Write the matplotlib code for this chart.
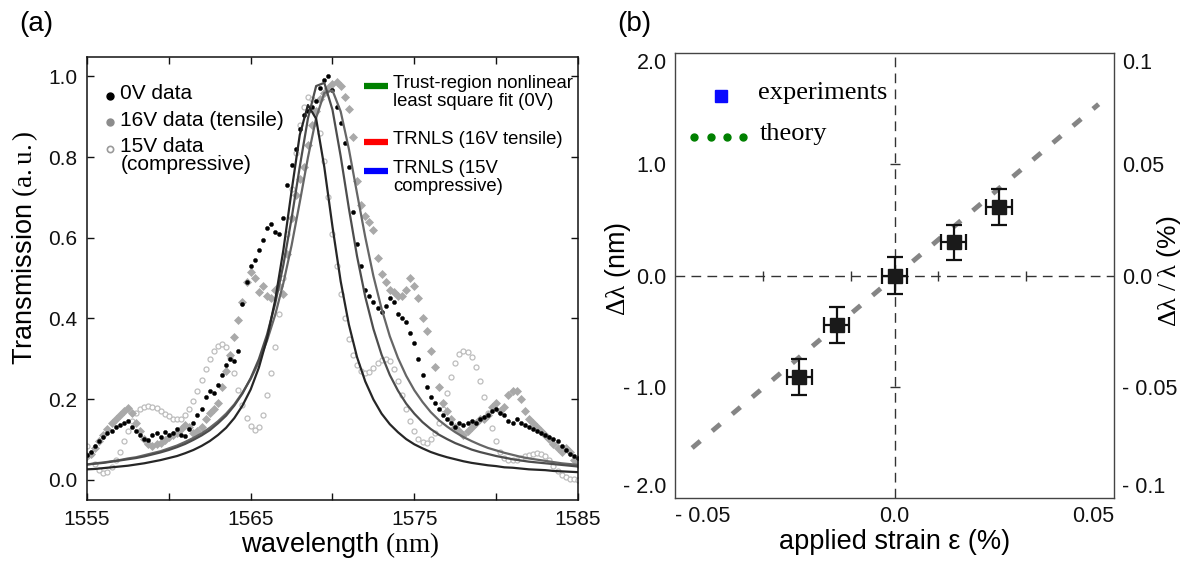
import numpy as np
import matplotlib
matplotlib.use("Agg")
import matplotlib.pyplot as plt

plt.rcParams['font.family'] = ['Liberation Sans', 'DejaVu Sans']
plt.rcParams['mathtext.fontset'] = 'custom'
plt.rcParams['mathtext.rm'] = 'Liberation Serif'
plt.rcParams['mathtext.it'] = 'Liberation Serif:italic'
plt.rcParams['mathtext.bf'] = 'Liberation Serif:bold'

# ---------------- panel (a): transmission spectra ----------------
WL = np.linspace(1555, 1585, 121)          # 0.25 nm sampling
T_0V = [0.062, 0.070, 0.085, 0.095, 0.105, 0.115, 0.120, 0.130, 0.135, 0.140,
        0.145, 0.130, 0.120, 0.110, 0.100, 0.098, 0.110, 0.115, 0.105, 0.118,
        0.112, 0.115, 0.125, 0.110, 0.108, 0.125, 0.140, 0.160, 0.175, 0.205,
        0.220, 0.215, 0.235, 0.260, 0.285, 0.300, 0.295, 0.320, 0.435, 0.490,
        0.530, 0.545, 0.570, 0.595, 0.625, 0.635, 0.615, 0.610, 0.650, 0.730,
        0.780, 0.820, 0.870, 0.905, 0.915, 0.925, 0.940, 0.970, 0.990, 1.000,
        0.965, 0.925, 0.885, 0.835, 0.775, 0.665, 0.585, 0.530, 0.470, 0.455,
        0.440, 0.425, 0.415, 0.430, 0.450, 0.440, 0.410, 0.400, 0.390, 0.365,
        0.340, 0.300, 0.260, 0.230, 0.205, 0.190, 0.175, 0.160, 0.150, 0.140,
        0.130, 0.140, 0.135, 0.140, 0.145, 0.140, 0.150, 0.155, 0.160, 0.170,
        0.175, 0.165, 0.160, 0.145, 0.140, 0.150, 0.140, 0.135, 0.130, 0.125,
        0.120, 0.115, 0.110, 0.105, 0.100, 0.095, 0.085, 0.075, 0.065, 0.060,
        0.055]
T_16V = [0.060, 0.065, 0.080, 0.095, 0.110, 0.125, 0.140, 0.150, 0.160, 0.170,
         0.178, 0.165, 0.140, 0.120, 0.100, 0.090, 0.085, 0.088, 0.092, 0.098,
         0.105, 0.110, 0.115, 0.125, 0.135, 0.130, 0.115, 0.120, 0.130, 0.150,
         0.165, 0.175, 0.190, 0.230, 0.270, 0.310, 0.355, 0.395, 0.440, 0.490,
         0.515, 0.500, 0.465, 0.480, 0.455, 0.450, 0.470, 0.480, 0.460, 0.560,
         0.650, 0.705, 0.745, 0.775, 0.830, 0.880, 0.915, 0.945, 0.960, 0.970,
         0.980, 0.985, 0.975, 0.950, 0.920, 0.850, 0.740, 0.680, 0.655, 0.640,
         0.620, 0.550, 0.510, 0.490, 0.470, 0.465, 0.455, 0.455, 0.470, 0.500,
         0.480, 0.450, 0.400, 0.370, 0.320, 0.280, 0.230, 0.190, 0.170, 0.150,
         0.130, 0.120, 0.110, 0.120, 0.130, 0.140, 0.150, 0.150, 0.160, 0.180,
         0.190, 0.170, 0.180, 0.210, 0.220, 0.220, 0.200, 0.170, 0.150, 0.140,
         0.130, 0.120, 0.110, 0.100, 0.090, 0.080, 0.070, 0.080, 0.070, 0.050,
         0.040]
T_15V = [0.085, 0.065, 0.040, 0.025, 0.018, 0.020, 0.032, 0.050, 0.070, 0.095,
         0.120, 0.145, 0.165, 0.175, 0.180, 0.182, 0.181, 0.177, 0.171, 0.164,
         0.157, 0.152, 0.150, 0.152, 0.160, 0.175, 0.195, 0.220, 0.247, 0.275,
         0.300, 0.320, 0.332, 0.337, 0.328, 0.302, 0.265, 0.222, 0.185, 0.153,
         0.133, 0.124, 0.130, 0.160, 0.210, 0.265, 0.330, 0.410, 0.500, 0.610,
         0.720, 0.810, 0.880, 0.925, 0.950, 0.945, 0.915, 0.860, 0.790, 0.700,
         0.610, 0.530, 0.460, 0.400, 0.350, 0.310, 0.285, 0.270, 0.265, 0.268,
         0.278, 0.290, 0.298, 0.300, 0.295, 0.275, 0.245, 0.210, 0.175, 0.145,
         0.120, 0.102, 0.093, 0.092, 0.100, 0.115, 0.140, 0.175, 0.215, 0.255,
         0.290, 0.312, 0.320, 0.318, 0.305, 0.280, 0.245, 0.205, 0.165, 0.128,
         0.095, 0.070, 0.055, 0.049, 0.048, 0.050, 0.053, 0.058, 0.062, 0.065,
         0.066, 0.064, 0.058, 0.048, 0.035, 0.022, 0.012, 0.006, 0.003, 0.001,
         0.000]

FIT_WL = np.linspace(1555, 1585, 61)       # 0.5 nm sampling
FIT_0V = [0.038, 0.040, 0.042, 0.045, 0.048, 0.051, 0.054, 0.058, 0.063, 0.068,
          0.074, 0.081, 0.089, 0.099, 0.110, 0.123, 0.140, 0.159, 0.184, 0.214,
          0.252, 0.299, 0.360, 0.437, 0.533, 0.648, 0.776, 0.896, 0.976, 0.984,
          0.917, 0.802, 0.673, 0.554, 0.454, 0.374, 0.310, 0.260, 0.221, 0.189,
          0.164, 0.143, 0.126, 0.112, 0.101, 0.091, 0.083, 0.075, 0.069, 0.064,
          0.059, 0.055, 0.051, 0.048, 0.045, 0.043, 0.041, 0.039, 0.037, 0.035,
          0.033]
FIT_16V = [0.038, 0.041, 0.043, 0.046, 0.049, 0.053, 0.056, 0.061, 0.066, 0.071,
           0.078, 0.085, 0.094, 0.104, 0.115, 0.129, 0.145, 0.164, 0.187, 0.216,
           0.250, 0.292, 0.345, 0.409, 0.488, 0.581, 0.688, 0.799, 0.897, 0.959,
           0.965, 0.913, 0.820, 0.710, 0.602, 0.505, 0.424, 0.356, 0.302, 0.258,
           0.222, 0.193, 0.168, 0.148, 0.132, 0.118, 0.106, 0.096, 0.087, 0.079,
           0.073, 0.067, 0.062, 0.057, 0.053, 0.050, 0.047, 0.044, 0.041, 0.039,
           0.037]
FIT_15V = [0.026, 0.027, 0.029, 0.031, 0.033, 0.035, 0.038, 0.041, 0.045, 0.049,
           0.054, 0.059, 0.066, 0.074, 0.084, 0.096, 0.111, 0.129, 0.153, 0.184,
           0.224, 0.278, 0.350, 0.446, 0.570, 0.716, 0.855, 0.929, 0.895, 0.775,
           0.627, 0.492, 0.385, 0.304, 0.244, 0.199, 0.164, 0.138, 0.118, 0.101,
           0.088, 0.078, 0.069, 0.062, 0.056, 0.051, 0.046, 0.042, 0.039, 0.036,
           0.034, 0.031, 0.030, 0.028, 0.026, 0.025, 0.024, 0.022, 0.021, 0.020,
           0.019]

A_XTICKS = [1555, 1560, 1565, 1570, 1575, 1580, 1585]
A_XTICKLABELS = ['1555', '', '1565', '', '1575', '', '1585']
A_YTICKS = [0.0, 0.2, 0.4, 0.6, 0.8, 1.0]
A_YTICKLABELS = ['0.0', '0.2', '0.4', '0.6', '0.8', '1.0']
DATA_LABELS = ['0V data', '16V data (tensile)', '15V data\n(compressive)']
FIT_LABELS = ['Trust-region nonlinear\nleast square fit (0V)',
              'TRNLS (16V tensile)', 'TRNLS (15V\ncompressive)']

# ---------------- panel (b): shift vs strain ----------------
STRAIN = [-0.0217, -0.0132, 0.0, 0.0135, 0.0238]
SHIFT = [-0.91, -0.447, 0.0, 0.297, 0.617]
SHIFT_ERR = [0.163, 0.163, 0.166, 0.160, 0.163]
STRAIN_ERR = [0.0029, 0.0029, 0.0028, 0.0028, 0.0029]
THEORY_STRAIN = [-0.0461, 0.0465]
THEORY_SHIFT = [-1.55, 1.54]
B_XTICKS = [-0.05, 0.0, 0.05]
B_XTICKLABELS = ['- 0.05', '0.0', '0.05']
B_YTICKS = [-2.0, -1.0, 0.0, 1.0, 2.0]
B_YTICKLABELS = ['- 2.0', '- 1.0', '0.0', '1.0', '2.0']
B_Y2TICKS = [-0.1, -0.05, 0.0, 0.05, 0.1]
B_Y2TICKLABELS = ['- 0.1', '- 0.05', '0.0', '0.05', '0.1']
ZERO_XMARKS = [-0.03, -0.01, 0.01, 0.03]
ZERO_YMARKS = [-1.0, 1.0]

W, H = 1187, 561
fig = plt.figure(figsize=(W / 100, H / 100), dpi=100)
axA = fig.add_axes([87 / W, 1 - 500 / H, (578 - 87) / W, (500 - 57) / H])
axB = fig.add_axes([675 / W, 1 - 498 / H, (1114 - 675) / W, (498 - 53) / H])

# ---- panel (a)
axA.plot(WL, T_15V, ls='none', marker='o', ms=3.6, mfc='white', mec='#bdbdbd', mew=0.9)
axA.plot(WL, T_16V, ls='none', marker='D', ms=4.2, mfc='#a9a9a9', mec='#a9a9a9', mew=0.5)
axA.plot(WL, T_0V, ls='none', marker='o', ms=3.0, mfc='black', mec='black', mew=0.3)
axA.plot(FIT_WL, FIT_16V, color='#666666', lw=1.6)
axA.plot(FIT_WL, FIT_0V, color='#4d4d4d', lw=1.6)
axA.plot(FIT_WL, FIT_15V, color='#262626', lw=1.6)

axA.set_xlim(1555, 1585)
axA.set_ylim(-0.05, 1.048)
axA.set_xticks(A_XTICKS)
axA.set_xticklabels(A_XTICKLABELS)
axA.set_yticks(A_YTICKS)
axA.set_yticklabels(A_YTICKLABELS)
axA.tick_params(direction='in', top=True, right=True, length=5, width=1,
                labelsize=15, pad=7, colors='#111111')
for s in axA.spines.values():
    s.set_linewidth(1.1)
    s.set_color('#111111')
axA.set_xlabel('wavelength $\\mathrm{(nm)}$', fontsize=19.5, labelpad=1)
axA.set_ylabel('Transmission $\\mathrm{(a.u.)}$', fontsize=19.5, labelpad=6)
axA.xaxis.label.set_x(0.515)
axA.yaxis.label.set_y(0.57)

# data legend (manual, handles aligned to first text line)
tA = axA.transAxes
data_styles = [dict(marker='o', ms=5, mfc='black', mec='black'),
               dict(marker='o', ms=5, mfc='#8c8c8c', mec='#8c8c8c'),
               dict(marker='o', ms=4.5, mfc='white', mec='#9a9a9a', mew=1.2)]
rows = [0.913, 0.853, 0.793]
for st, y, lab in zip(data_styles, rows, DATA_LABELS):
    axA.plot([0.047], [y], transform=tA, ls='none', clip_on=False, **st)
    axA.text(0.068, y + 0.026, lab, transform=tA, fontsize=15, va='top',
             ha='left', linespacing=0.92)

fit_colors = ['#008000', '#ff0000', '#0000ff']
frows = [0.934, 0.809, 0.742]
for c, y, lab in zip(fit_colors, frows, FIT_LABELS):
    axA.plot([0.565, 0.614], [y, y], transform=tA, color=c, lw=4.5,
             solid_capstyle='butt', clip_on=False)
    axA.text(0.624, y + 0.025, lab, transform=tA, fontsize=13.3, va='top',
             ha='left', linespacing=1.05)

fig.text(19 / W, 1 - 24 / H, '(a)', fontsize=20, va='center', ha='left')

# ---- panel (b)
axB.set_xlim(-0.05, 0.05)
axB.set_ylim(-2.0, 2.0)
axB.axhline(0, color='#333333', lw=1.0, dashes=(7, 4.5), zorder=1)
axB.axvline(0, color='#333333', lw=1.0, dashes=(7, 4.5), zorder=1)
axB.plot(ZERO_XMARKS, [0] * len(ZERO_XMARKS), ls='none', marker='|', ms=7,
         mew=1.0, color='#333333')
axB.plot([0] * len(ZERO_YMARKS), ZERO_YMARKS, ls='none', marker='_', ms=7,
         mew=1.0, color='#333333')
axB.plot(THEORY_STRAIN, THEORY_SHIFT, color='#858585', lw=3.5,
         dashes=(2.2, 3.2), dash_capstyle='butt', zorder=2)
axB.errorbar(STRAIN, SHIFT, yerr=SHIFT_ERR, xerr=STRAIN_ERR, fmt='s', ms=10.5,
             mfc='#1a1a1a', mec='#1a1a1a', ecolor='#111111', elinewidth=1.6,
             capsize=5.5, capthick=1.6, zorder=3)

axB.set_xticks(B_XTICKS)
axB.set_xticklabels(B_XTICKLABELS)
axB.set_yticks(B_YTICKS)
axB.set_yticklabels(B_YTICKLABELS)
axB.tick_params(length=0, labelsize=15.5, pad=6, colors='#111111')
xl = axB.get_xticklabels()
xl[0].set_ha('left')
xl[-1].set_ha('right')
yl = axB.get_yticklabels()
yl[0].set_va('bottom')
yl[-1].set_va('top')
for s in axB.spines.values():
    s.set_linewidth(1.0)
    s.set_color('#444444')
axB.set_xlabel('applied strain ε (%)', fontsize=19.5, labelpad=1)
axB.set_ylabel('$\\mathrm{\\Delta\\lambda}$ (nm)', fontsize=19.5)
axB.yaxis.set_label_coords(-0.095, 0.515)

axB2 = axB.twinx()
axB2.set_ylim(-0.1, 0.1)
axB2.set_yticks(B_Y2TICKS)
axB2.set_yticklabels(B_Y2TICKLABELS)
axB2.tick_params(length=0, labelsize=15.5, pad=6, colors='#111111')
y2l = axB2.get_yticklabels()
y2l[0].set_va('bottom')
y2l[-1].set_va('top')
for s in axB2.spines.values():
    s.set_visible(False)
axB2.set_ylabel('$\\mathrm{\\Delta\\lambda\\ /\\ \\lambda}$ (%)', fontsize=19)
axB2.yaxis.set_label_coords(1.094, 0.51)

tB = axB.transAxes
axB.plot([0.104], [0.904], transform=tB, ls='none', marker='s', ms=8,
         mfc='#0a0aff', mec='#0a0aff', clip_on=False)
axB.text(0.188, 0.911, 'experiments', transform=tB, fontsize=19,
         family='Liberation Serif', va='center', ha='left')
axB.plot([0.043, 0.0815, 0.119, 0.156], [0.811] * 4, transform=tB, ls='none',
         marker='o', ms=5, color='#008000', clip_on=False)
axB.text(0.194, 0.818, 'theory', transform=tB, fontsize=19,
         family='Liberation Serif', va='center', ha='left')

fig.text(617 / W, 1 - 24 / H, '(b)', fontsize=20, va='center', ha='left')

fig.savefig('out.png', dpi=100)
